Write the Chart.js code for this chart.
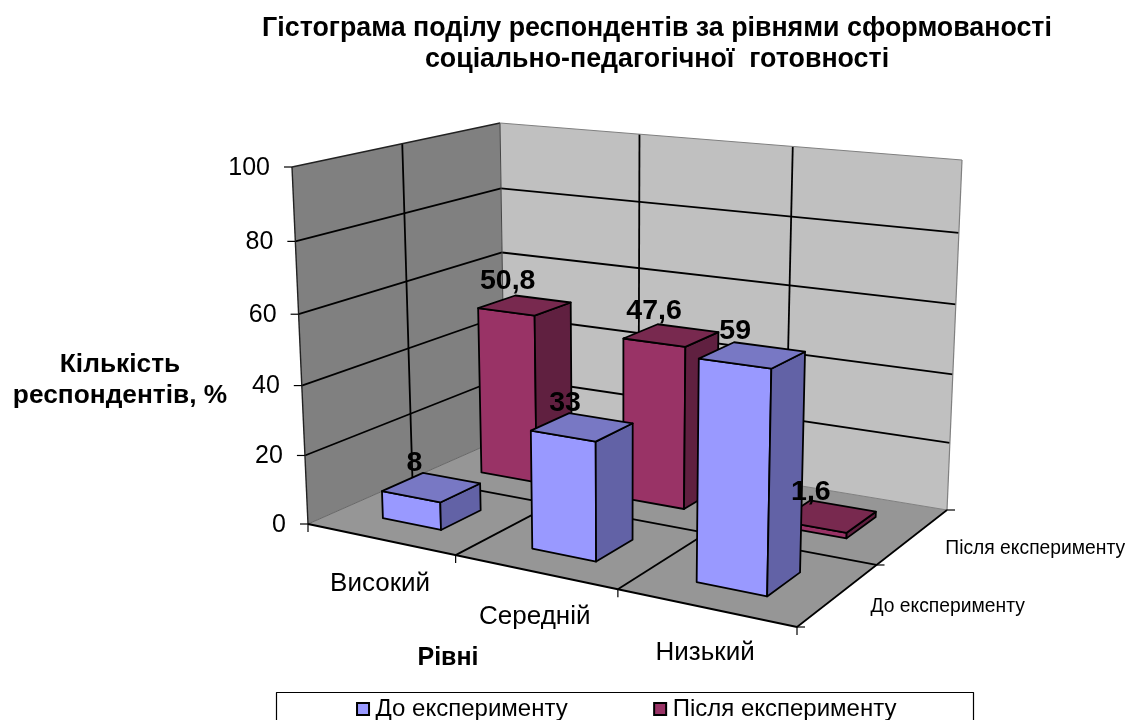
<!DOCTYPE html>
<html lang="uk">
<head>
<meta charset="utf-8">
<style>html,body{margin:0;padding:0;background:#fff;overflow:hidden}canvas{display:block}</style>
<script src="https://cdn.jsdelivr.net/npm/chart.js@4"></script>
</head>
<body>
<canvas id="c" width="1125" height="720"></canvas>
<script>
const chartTitle = ["Гістограма поділу респондентів за рівнями сформованості", "соціально-педагогічної  готовності"];
const categories = ["Високий", "Середній", "Низький"];
const seriesBefore = [8, 33, 59];
const seriesAfter = [50.8, 47.6, 1.6];
const seriesNames = ["До експерименту", "Після експерименту"];
const valueLabels = [["8", "33", "59"], ["50,8", "47,6", "1,6"]];
const yAxisTitle = ["Кількість", "респондентів, %"];
const xAxisTitle = "Рівні";

const FONT = "'Liberation Sans', Arial, sans-serif";
// 3D box frame in picture space (u across, z into the picture), bottom and top planes
const FRAME = {
  floor: {fl:[308,524], fr:[797,627], br:[947,510], bl:[505,437]},
  top:   {fl:[292,167], fr:[806,217], br:[962,160], bl:[500,123]}
};
const PERSPECTIVE = {u:-0.135, v:-0.05, z:0.128};
const BAR_DEPTH = 0.4;

const warp=(t,k)=>(1+k)*t/(1+k*t);
function plane(q,s,t){
  const a=[q.fl[0]+(q.fr[0]-q.fl[0])*s, q.fl[1]+(q.fr[1]-q.fl[1])*s];
  const b=[q.bl[0]+(q.br[0]-q.bl[0])*s, q.bl[1]+(q.br[1]-q.bl[1])*s];
  return [a[0]+(b[0]-a[0])*t, a[1]+(b[1]-a[1])*t];
}
function P(u,v,z){
  const s=warp(u,PERSPECTIVE.u), t=warp(z,PERSPECTIVE.z), h=warp(v,PERSPECTIVE.v);
  const a=plane(FRAME.floor,s,t), b=plane(FRAME.top,s,t);
  return [a[0]+(b[0]-a[0])*h, a[1]+(b[1]-a[1])*h];
}

function poly(ctx, pts, fill, stroke, lw){
  ctx.beginPath();
  pts.forEach((p,i)=>i?ctx.lineTo(p[0],p[1]):ctx.moveTo(p[0],p[1]));
  ctx.closePath();
  if(fill){ctx.fillStyle=fill;ctx.fill();}
  if(stroke){ctx.strokeStyle=stroke;ctx.lineWidth=lw||1.8;ctx.stroke();}
}
function line(ctx,a,b,color,lw){
  ctx.beginPath();ctx.moveTo(a[0],a[1]);ctx.lineTo(b[0],b[1]);
  ctx.strokeStyle=color||"#000";ctx.lineWidth=lw||1.8;ctx.stroke();
}
function text(ctx,s,x,y,font,align){
  ctx.font=font;ctx.fillStyle="#000";ctx.textAlign=align||"center";ctx.textBaseline="middle";ctx.fillText(s,x,y);
}

const box3d = {
  id: "box3d",
  afterLayout(chart){
    const t=chart.titleBlock; t.left=189; t.right=1125; t.top=13;
    const l=chart.legend; l.left=134; l.right=1125; l.top=605; l.bottom=720;
  },
  beforeDatasetsDraw(chart){
    const ctx=chart.ctx, area=chart.chartArea, xs=chart.scales.x, ys=chart.scales.y;
    const U=px=>(px-area.left)/area.width, V=px=>(area.bottom-px)/area.height;
    const n=categories.length, m=chart.data.datasets.length;
    ctx.save();
    ctx.lineJoin="round";
    // walls and floor
    poly(ctx,[P(0,0,0),P(0,1,0),P(0,1,1),P(0,0,1)],"#808080");
    poly(ctx,[P(0,0,1),P(0,1,1),P(1,1,1),P(1,0,1)],"#c0c0c0");
    poly(ctx,[P(0,0,0),P(1,0,0),P(1,0,1),P(0,0,1)],"#969696");
    // wall grid
    ys.ticks.forEach(t=>{
      const v=V(ys.getPixelForValue(t.value));
      if(v>0&&v<1){
        line(ctx,P(0,v,0),P(0,v,1));
        line(ctx,P(0,v,1),P(1,v,1));
      }
    });
    for(let i=1;i<n;i++){
      line(ctx,P(i/n,0,1),P(i/n,1,1));
      line(ctx,P(i/n,0,0),P(i/n,0,1));
    }
    for(let j=1;j<m;j++){
      line(ctx,P(0,0,j/m),P(0,1,j/m));
      line(ctx,P(0,0,j/m),P(1,0,j/m));
    }
    // frame edges
    line(ctx,P(0,1,0),P(0,1,1),"#222",1.4);
    line(ctx,P(0,0,0),P(0,1,0),"#222",1.4);
    line(ctx,P(0,0,1),P(0,1,1),"#444",1);
    line(ctx,P(0,1,1),P(1,1,1),"#808080",1.2);
    line(ctx,P(1,1,1),P(1,0,1),"#808080",1.2);
    line(ctx,P(0,0,1),P(1,0,1),"#808080",1);
    line(ctx,P(0,0,1),P(0,0,0),"#666",1);
    line(ctx,P(0,0,0),P(1,0,0),"#000",1.9);
    line(ctx,P(1,0,0),P(1,0,1),"#000",1.7);
    // axis tick marks
    ys.ticks.forEach(t=>{
      const p=P(0,V(ys.getPixelForValue(t.value)),0);
      line(ctx,[p[0]-8,p[1]],p,"#000",1.2);
    });
    for(let i=0;i<=n;i++){const p=P(i/n,0,0);line(ctx,p,[p[0],p[1]+8],"#000",1.2);}
    for(let j=0;j<=m;j++){const p=P(1,0,j/m);line(ctx,p,[p[0]+8,p[1]],"#000",1.2);}

    // bars: back series first, each from the library's bar element geometry
    const shades=[{front:"#9999ff",top:"#7878c4",side:"#6262a6"},{front:"#993366",top:"#78294f",side:"#602040"}];
    const labels=[];
    for(let s=m-1;s>=0;s--){
      const meta=chart.getDatasetMeta(s), c=shades[s];
      const z0=(s+0.5-BAR_DEPTH/2)/m, z1=(s+0.5+BAR_DEPTH/2)/m;
      meta.data.forEach((el,i)=>{
        const u0=U(el.x-el.width/2), u1=U(el.x+el.width/2), v=V(el.y);
        poly(ctx,[P(u0,0,z0),P(u1,0,z0),P(u1,v,z0),P(u0,v,z0)],c.front,"#000");
        poly(ctx,[P(u1,0,z0),P(u1,0,z1),P(u1,v,z1),P(u1,v,z0)],c.side,"#000");
        poly(ctx,[P(u0,v,z0),P(u1,v,z0),P(u1,v,z1),P(u0,v,z1)],c.top,"#000");
        const tc=P((u0+u1)/2,v,(z0+z1)/2);
        labels.push([valueLabels[s][i],tc[0]-17,tc[1]-24]);
      });
    }
    labels.forEach(l=>text(ctx,l[0],l[1],l[2],"bold 28.5px "+FONT));

    // tick labels
    ys.ticks.forEach(t=>{
      const p=P(0,V(ys.getPixelForValue(t.value)),0);
      text(ctx,String(t.value),p[0]-22,p[1]+1,"25px "+FONT,"right");
    });
    xs.getLabels().forEach((lab,i)=>{
      const p=P(U(xs.getPixelForValue(i)),0,0);
      text(ctx,lab,p[0],p[1]+45,"26px "+FONT);
    });
    chart.data.datasets.forEach((d,j)=>{
      const p=P(1,0,(j+0.5)/m);
      text(ctx,d.label,p[0]+32.5,p[1]+12,"19.3px "+FONT,"left");
    });
    yAxisTitle.forEach((s,i)=>text(ctx,s,120,365+i*31,"bold 26.3px "+FONT));
    text(ctx,xAxisTitle,448,658.5,"bold 25px "+FONT);
    // legend frame
    ctx.strokeStyle="#000";ctx.lineWidth=1.2;
    ctx.strokeRect(276.5,692.5,697,40);
    ctx.restore();
    return false;
  }
};

new Chart(document.getElementById("c"),{
  type:"bar",
  data:{
    labels:categories,
    datasets:[
      {label:seriesNames[0],data:seriesBefore,backgroundColor:"#9999ff",borderColor:"#000",borderWidth:2},
      {label:seriesNames[1],data:seriesAfter,backgroundColor:"#993366",borderColor:"#000",borderWidth:2}
    ]
  },
  options:{
    responsive:false,
    animation:false,
    grouped:false,
    categoryPercentage:1,
    barPercentage:0.4,
    scales:{
      x:{display:false},
      y:{display:false,min:0,max:100,ticks:{stepSize:20}}
    },
    plugins:{
      title:{display:true,text:chartTitle,color:"#000",font:{family:FONT,size:26.8,weight:"bold",lineHeight:1.157},padding:0},
      legend:{position:"bottom",labels:{color:"#000",font:{family:FONT,size:24},usePointStyle:true,pointStyle:"rect",boxWidth:1,boxHeight:12,padding:92}},
      tooltip:{enabled:false}
    }
  },
  plugins:[box3d]
});
</script>
</body>
</html>
